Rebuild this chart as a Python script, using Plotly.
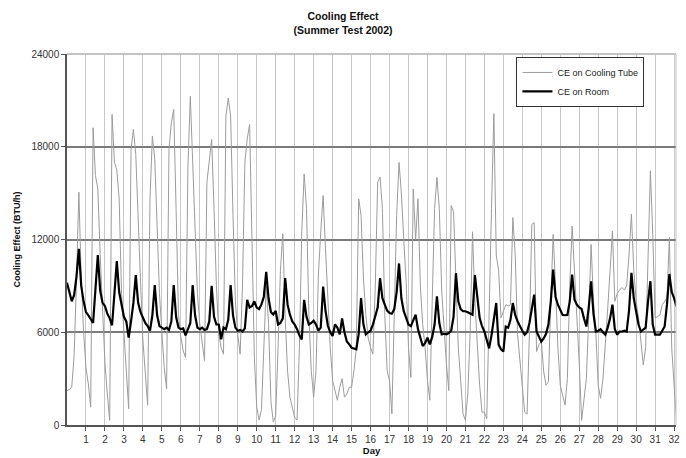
import plotly.graph_objects as go

# ---------------- data ----------------
samples_per_day = 8  # one reading every 3 hours

ce_cooling_tube = [
    # day 0
    2230, 2300, 2440, 4500, 9300, 15060, 9500, 6000,
    # day 1
    3720, 2650, 1155, 19230, 16130, 15270, 11000, 7500,
    # day 2
    4000, 2000, 300, 20090, 17000, 16500, 14630, 8500,
    # day 3
    6000, 4200, 1050, 17840, 19120, 17500, 13000, 9300,
    # day 4
    5500, 3000, 1280, 14630, 18700, 17200, 12280, 8500,
    # day 5
    6000, 3720, 2330, 17840, 19550, 20410, 14000, 7140,
    # day 6
    5700, 4800, 4360, 16770, 21260, 17000, 13560, 8500,
    # day 7
    6500, 5400, 4170, 15700, 17000, 18480, 14000, 9000,
    # day 8
    5860, 5000, 4580, 19980, 21150, 19980, 13560, 8000,
    # day 9
    5860, 4580, 9000, 17000, 18500, 19440, 12000, 4360,
    # day 10
    1155, 320, 1000, 5000, 9000, 6500, 1500, 200,
    # day 11
    600, 5000, 10000, 12380, 7000, 3500, 1800, 1155,
    # day 12
    500, 320, 5000, 12510, 16240, 13990, 7140, 3530,
    # day 13
    1800, 3500, 9710, 12500, 14840, 11420, 8000, 5000,
    # day 14
    2870, 2200, 1600, 2440, 3000, 1800, 2000, 2440,
    # day 15
    2440, 3500, 5000, 14630, 13560, 9500, 7140, 5650,
    # day 16
    5000, 4580, 9000, 15720, 16040, 14000, 7140, 3500,
    # day 17
    2870, 725, 8000, 13560, 16990, 15000, 12000, 9300,
    # day 18
    5000, 3080, 15270, 12000, 14630, 9000, 6500, 5000,
    # day 19
    2870, 1600, 8000, 14000, 16020, 14000, 8700, 6000,
    # day 20
    3930, 2230, 14200, 13800, 9500, 5000, 2870, 725,
    # day 21
    300, 2000, 6000, 12500, 8000, 5000, 2570, 830,
    # day 22
    830, 410, 8000, 14000, 20140, 11000, 10000, 6930,
    # day 23
    7350, 7780, 7700, 7780, 13420, 11000, 5840, 4000,
    # day 24
    2570, 830, 700, 6000, 12980, 13090, 4750, 5200,
    # day 25
    5390, 3470, 2570, 2800, 8000, 12330, 9000, 5000,
    # day 26
    2570, 2000, 1280, 3000, 9000, 12870, 10000, 7330,
    # day 27
    4000, 300, 1500, 3000, 7000, 11680, 8000, 6000,
    # day 28
    2570, 1730, 3000, 5000, 7500, 10000, 12550, 8000,
    # day 29
    8500, 8730, 8900, 8730, 9000, 11000, 13640, 10000,
    # day 30
    8000, 6930, 5390, 3880, 5000, 10000, 16450, 12330,
    # day 31
    6930, 7000, 7120, 7780, 8000, 8210, 12130, 5000,
    # day 32
    2570, 410,
]

ce_room = [
    # day 0
    9200, 8500, 8000, 8400, 9600, 11400, 9000, 8000,
    # day 1
    7300, 7100, 6800, 6600, 8800, 11000, 8700, 7900,
    # day 2
    7700, 7200, 6900, 6450, 8500, 10600, 8600, 7800,
    # day 3
    7000, 6700, 5650, 6700, 7900, 9700, 7900, 7300,
    # day 4
    6900, 6600, 6400, 6100, 7100, 9050, 7100, 6400,
    # day 5
    6300, 6200, 6300, 6150, 6700, 9050, 7000, 6300,
    # day 6
    6200, 6250, 5800, 6250, 6600, 9050, 7100, 6300,
    # day 7
    6200, 6300, 6150, 6200, 6700, 9000, 7000, 6500,
    # day 8
    6500, 5550, 6300, 6200, 6800, 9050, 7100, 6300,
    # day 9
    6100, 6150, 6050, 6250, 8100, 7600, 7700, 8000,
    # day 10
    7600, 7500, 7800, 8300, 9900, 8200, 7300, 7150,
    # day 11
    7380, 6500, 6600, 6900, 9500, 7800, 7140, 6700,
    # day 12
    6500, 6200, 5800, 5540, 8100, 7000, 6500, 6600,
    # day 13
    6740, 6500, 6100, 6300, 8960, 7400, 6420, 6000,
    # day 14
    5760, 6500, 6300, 5860, 6900, 6000, 5400, 5220,
    # day 15
    5000, 4950, 4900, 5900, 8210, 6500, 5860, 6000,
    # day 16
    6100, 6500, 7140, 7600, 9500, 8200, 7780, 7400,
    # day 17
    7250, 7200, 7500, 8600, 10450, 8200, 7360, 6900,
    # day 18
    6500, 6400, 6800, 7140, 6200, 5650, 5110, 5300,
    # day 19
    5650, 5220, 5700, 6500, 8320, 6600, 5860, 5900,
    # day 20
    5860, 5950, 6100, 7000, 9820, 8000, 7500, 7360,
    # day 21
    7360, 7300, 7200, 7140, 9700, 8300, 6930, 6400,
    # day 22
    6050, 5500, 4960, 5800, 7000, 7890, 5200, 4900,
    # day 23
    4750, 6370, 6300, 6800, 7890, 7120, 6700, 6370,
    # day 24
    6100, 5840, 6000, 6600, 7600, 8430, 6050, 5700,
    # day 25
    5390, 5600, 5900, 6500, 8000, 10050, 8300, 7780,
    # day 26
    7400, 7120, 7100, 7120, 8000, 9730, 8100, 7780,
    # day 27
    7600, 7500, 6900, 6370, 7600, 9300, 7200, 6050,
    # day 28
    6100, 6200, 6000, 5840, 6300, 6900, 7780, 6200,
    # day 29
    5840, 6050, 6050, 6100, 6050, 7400, 9840, 8200,
    # day 30
    7330, 6500, 6050, 6200, 6300, 8000, 9300, 6500,
    # day 31
    5840, 5840, 5840, 6100, 6370, 7800, 9770, 8600,
    # day 32
    8210, 7670,
]

day_time = [i / samples_per_day for i in range(len(ce_room))]
day_ticks = list(range(1, 33))
y_ticks = [0, 6000, 12000, 18000, 24000]

FONT = "Arial, 'Liberation Sans', sans-serif"

# ---------------- figure ----------------
fig = go.Figure()
fig.add_trace(go.Scatter(
    x=day_time, y=ce_cooling_tube, mode="lines", name="CE on Cooling Tube",
    line=dict(color="#9c9c9c", width=1),
))
fig.add_trace(go.Scatter(
    x=day_time, y=ce_room, mode="lines", name="CE on Room",
    line=dict(color="#000000", width=2.2),
))

fig.update_layout(
    width=686, height=458,
    margin=dict(l=67, r=6, t=54, b=30),
    paper_bgcolor="white", plot_bgcolor="white",
    font=dict(family=FONT, color="#222222"),
    title=dict(
        text="<b>Cooling Effect</b><br><b>(Summer Test 2002)</b>",
        x=0.5, xanchor="center", xref="container",
        y=1 - 20 / 458, yanchor="middle", yref="container",
        font=dict(size=10.5, color="#111111", family=FONT),
    ),
    legend=dict(
        x=0.738, y=0.992, xanchor="left", yanchor="top",
        bgcolor="white", bordercolor="#333333", borderwidth=1,
        font=dict(size=9, color="#222222", family=FONT),
        itemwidth=30, tracegroupgap=0,
    ),
    showlegend=True,
)

fig.update_xaxes(
    range=[0, 32.1], tickmode="array", tickvals=day_ticks,
    showgrid=True, gridcolor="#c8c8c8", gridwidth=1,
    showline=True, linecolor="#555555", linewidth=1.5,
    ticks="outside", ticklen=4, tickcolor="#555555",
    tickfont=dict(size=10, color="#333333"),
    zeroline=False,
    title=dict(text="<b>Day</b>", font=dict(size=9.5, color="#111111"), standoff=1),
)
fig.update_yaxes(
    range=[0, 24000], tickmode="array", tickvals=y_ticks, tickformat="d",
    showgrid=True, gridcolor="#7a7a7a", gridwidth=1.6,
    showline=True, linecolor="#555555", linewidth=1.5,
    ticks="outside", ticklen=4, tickcolor="#555555",
    tickfont=dict(size=10, color="#333333"),
    zeroline=False,
    title=dict(text="<b>Cooling Effect (BTU/h)</b>", font=dict(size=9, color="#111111"), standoff=9),
)

# light plot-area border (top and right)
fig.add_shape(type="line", xref="x domain", yref="y domain", x0=0, x1=1, y0=1, y1=1,
              line=dict(color="#c4c4c4", width=2), layer="above")
fig.add_shape(type="line", xref="x domain", yref="y domain", x0=1, x1=1, y0=0, y1=1,
              line=dict(color="#c4c4c4", width=1), layer="above")

fig.write_html("out.html")
